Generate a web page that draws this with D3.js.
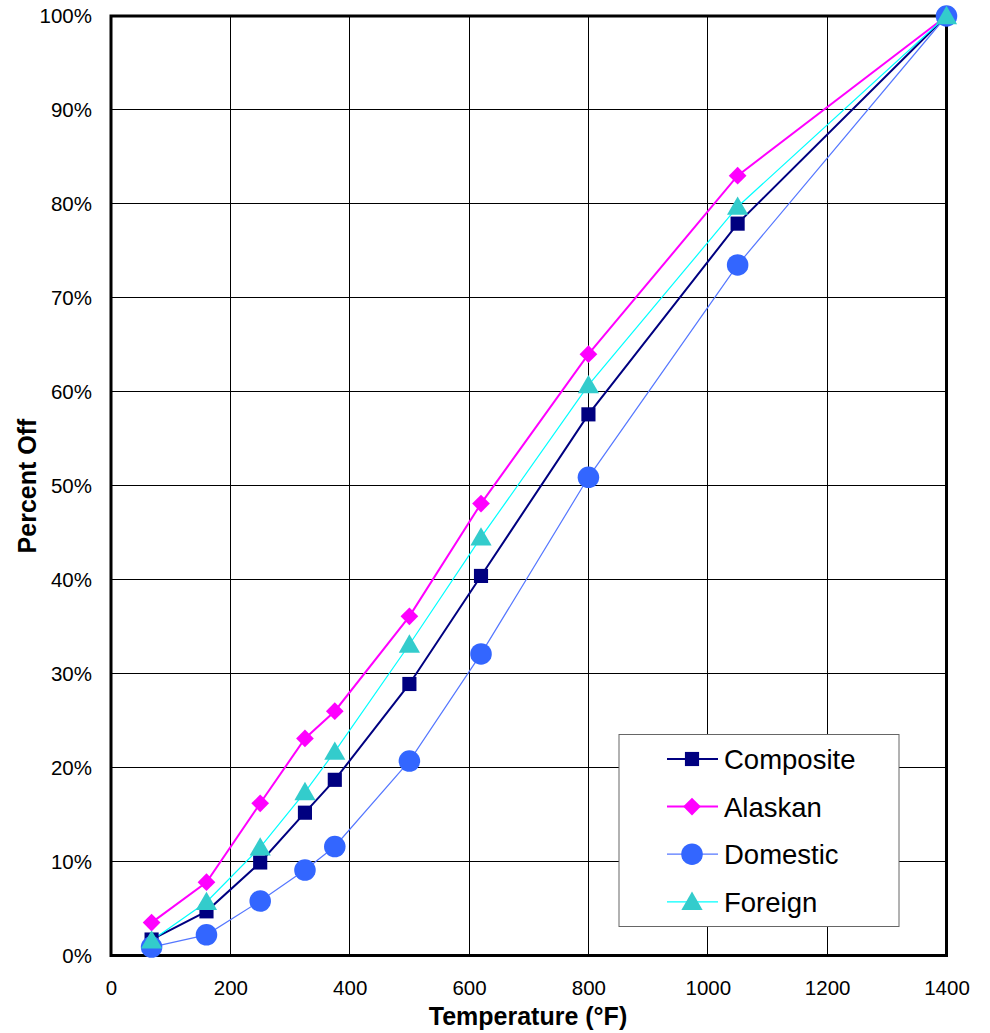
<!DOCTYPE html>
<html>
<head>
<meta charset="utf-8">
<script src="https://cdn.jsdelivr.net/npm/d3@7/dist/d3.min.js"></script>
<style>
  html, body { margin: 0; padding: 0; background: #fff; }
  svg { display: block; font-family: Arial, "Liberation Sans", sans-serif; }
</style>
</head>
<body>
<svg id="chart" width="990" height="1033"></svg>
<script>
// Distillation curves: cumulative percent off vs. temperature
const temperatures = [68, 160, 250, 325, 375, 500, 620, 800, 1050, 1400];
const composite = [1.7, 4.7, 9.9, 15.2, 18.7, 28.9, 40.4, 57.6, 77.9, 100];
const alaskan   = [3.5, 7.8, 16.2, 23.1, 26.0, 36.1, 48.1, 64.0, 83.0, 100];
const domestic  = [0.9, 2.2, 5.8, 9.1, 11.6, 20.7, 32.1, 50.9, 73.5, 100];
const foreign   = [1.6, 5.7, 11.5, 17.4, 21.7, 33.1, 44.5, 60.7, 79.7, 100];
const seriesNames = ["Composite", "Alaskan", "Domestic", "Foreign"];
const xTicks = [0, 200, 400, 600, 800, 1000, 1200, 1400];
const yTicks = [0, 10, 20, 30, 40, 50, 60, 70, 80, 90, 100];

const styles = {
  Composite: { line: "#000080", width: 2,   fill: "#000080", symbol: d3.symbolSquare,   size: 200 },
  Alaskan:   { line: "#FF00FF", width: 2,   fill: "#FF00FF", symbol: d3.symbolDiamond2, size: 200 },
  Domestic:  { line: "#5577FF", width: 1.2, fill: "#3366FF", symbol: d3.symbolCircle,   size: 365 },
  Foreign:   { line: "#00FFFF", width: 1.2, fill: "#33CCCC", symbol: d3.symbolTriangle, size: 195 }
};
const values = { Composite: composite, Alaskan: alaskan, Domestic: domestic, Foreign: foreign };

const svg = d3.select("#chart");
const plot = { left: 111, right: 946.5, top: 16, bottom: 955.5 };
const tickFont = 20.5;

const x = d3.scaleLinear().domain([0, 1400]).range([plot.left, plot.right]);
const y = d3.scaleLinear().domain([0, 100]).range([plot.bottom, plot.top]);

// Grid lines
const grid = svg.append("g");
grid.selectAll("line.vx").data(xTicks.slice(1, -1)).join("line")
  .attr("x1", d => x(d)).attr("x2", d => x(d))
  .attr("y1", plot.top).attr("y2", plot.bottom)
  .attr("stroke", "#000").attr("stroke-width", 1).attr("shape-rendering", "crispEdges");
grid.selectAll("line.hy").data(yTicks.slice(1, -1)).join("line")
  .attr("x1", plot.left).attr("x2", plot.right)
  .attr("y1", d => y(d)).attr("y2", d => y(d))
  .attr("stroke", "#000").attr("stroke-width", 1).attr("shape-rendering", "crispEdges");

// Plot frame (markers sit on top of it)
svg.append("rect")
  .attr("x", plot.left).attr("y", plot.top)
  .attr("width", plot.right - plot.left).attr("height", plot.bottom - plot.top)
  .attr("fill", "none").attr("stroke", "#000").attr("stroke-width", 3);

// Axes (labels only; frame drawn separately)
const xAxis = svg.append("g")
  .attr("transform", `translate(0,${plot.bottom})`)
  .call(d3.axisBottom(x).tickValues(xTicks).tickSize(0).tickFormat(d3.format("d")));
xAxis.select(".domain").remove();
xAxis.selectAll("text")
  .attr("y", 39.5).attr("dy", null)
  .attr("font-size", tickFont).attr("font-family", "Arial, 'Liberation Sans', sans-serif").attr("fill", "#000");

const yAxis = svg.append("g")
  .attr("transform", `translate(${plot.left},0)`)
  .call(d3.axisLeft(y).tickValues(yTicks).tickSize(0).tickPadding(19).tickFormat(d => d + "%"));
yAxis.select(".domain").remove();
yAxis.selectAll("text")
  .attr("font-size", tickFont).attr("font-family", "Arial, 'Liberation Sans', sans-serif").attr("fill", "#000");

// Series lines, then markers, in series order
const line = d3.line().x(d => x(d[0])).y(d => y(d[1]));
seriesNames.forEach(name => {
  const s = styles[name];
  const pts = temperatures.map((t, i) => [t, values[name][i]]);
  svg.append("path").datum(pts)
    .attr("d", line).attr("fill", "none")
    .attr("stroke", s.line).attr("stroke-width", s.width);
});
seriesNames.forEach(name => {
  const s = styles[name];
  const pts = temperatures.map((t, i) => [t, values[name][i]]);
  svg.append("g").selectAll("path").data(pts).join("path")
    .attr("d", d3.symbol().type(s.symbol).size(s.size))
    .attr("transform", d => {
      const dy = name === "Foreign" ? 2 : 0;
      return `translate(${x(d[0])},${y(d[1]) + dy})`;
    })
    .attr("fill", s.fill);
});

// Axis titles
svg.append("text")
  .attr("x", 528).attr("y", 1025)
  .attr("text-anchor", "middle").attr("font-size", 25).attr("font-weight", "bold")
  .text("Temperature (°F)");
svg.append("text")
  .attr("transform", `translate(36,486) rotate(-90)`)
  .attr("text-anchor", "middle").attr("font-size", 25).attr("font-weight", "bold")
  .text("Percent Off");

// Legend
const legend = svg.append("g");
legend.append("rect")
  .attr("x", 619).attr("y", 734.5).attr("width", 280).attr("height", 192)
  .attr("fill", "#fff").attr("stroke", "#666").attr("stroke-width", 1);
seriesNames.forEach((name, i) => {
  const s = styles[name];
  const cy = 759 + i * 47.6;
  legend.append("line")
    .attr("x1", 667).attr("x2", 718).attr("y1", cy).attr("y2", cy)
    .attr("stroke", s.line).attr("stroke-width", s.width);
  legend.append("path")
    .attr("d", d3.symbol().type(s.symbol).size(s.size))
    .attr("transform", `translate(692,${cy + (name === "Foreign" ? 2 : 0)})`)
    .attr("fill", s.fill);
  legend.append("text")
    .attr("x", 724).attr("y", cy).attr("dy", "0.36em")
    .attr("font-size", 27.5).text(name);
});
</script>
</body>
</html>
